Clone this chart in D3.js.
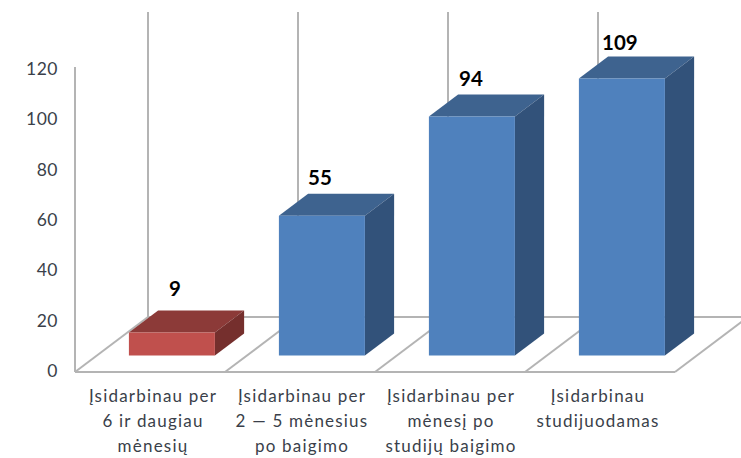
<!DOCTYPE html>
<html>
<head>
<meta charset="utf-8">
<script src="https://cdn.jsdelivr.net/npm/d3@7"></script>
<style>
    html, body { margin: 0; padding: 0; background: #fff; }
    svg { display: block; }
    text { font-family: Lato, "Open Sans", sans-serif; }
</style>
</head>
<body>
<svg id="canvas" width="741" height="458"></svg>
<script>
var categories = ['cat6', 'cat2to5', 'cat1', 'catStudy'];
var values = [9, 55, 94, 109];
var categoryLines = [
    ['Įsidarbinau per', '6 ir daugiau', 'mėnesių'],
    ['Įsidarbinau per', '2 — 5 mėnesius', 'po baigimo'],
    ['Įsidarbinau per', 'mėnesį po', 'studijų baigimo'],
    ['Įsidarbinau', 'studijuodamas']
];
var yTicks = [0, 20, 40, 60, 80, 100, 120];
var frontColors = ['#c0504d', '#4f81bd', '#4f81bd', '#4f81bd'];
var topColors = ['#8c3a38', '#3e638f', '#3e638f', '#3e638f'];
var sideColors = ['#752f2d', '#32527a', '#32527a', '#32527a'];

// hand placed offsets for the labels, the original chart does not centre them exactly
var valueNudgeX = [3, -2, -1, -2];
var valueNudgeY = [-6, 0, 0, 3];
var categoryNudgeX = [3, 2, 1, -2];

var canvas = d3.select('#canvas');

var x = d3.scaleBand()
    .domain(categories)
    .range([75, 675])
    .paddingInner(0.4267)
    .paddingOuter(0.2133);

var y = d3.scaleLinear().domain([0, 120]).range([372, 67]);
// tick labels sit a little tighter than the wall
var yLabels = d3.scaleLinear().domain([0, 120]).range([371, 69]);

// oblique projection, t = 0 is the front of the floor and t = 1 the back wall
var depthX = d3.scaleLinear().domain([0, 1]).range([0, 73]);
var depthY = d3.scaleLinear().domain([0, 1]).range([0, -55]);
var barFront = 0.3, barBack = 0.7;

function px(xv, t) { return xv + depthX(t); }
function py(v, t) { return y(v) + depthY(t); }
function poly(points) {
    return points.map(function(p) { return p[0].toFixed(1) + ',' + p[1].toFixed(1); }).join(' ');
}

var gridColor = '#b4b4b4';
var bandStep = x.step();
var slots = categories.map(function(c) { return x(c) - (bandStep - x.bandwidth()) / 2; });
var xEnd = x.range()[1];

var grid = canvas.append('g')
    .attr('fill', 'none')
    .attr('stroke', gridColor)
    .attr('stroke-width', 2);

// back wall verticals
grid.selectAll('.wall')
    .data(slots)
    .enter()
    .append('line')
    .attr('x1', function(d) { return px(d, 1); })
    .attr('x2', function(d) { return px(d, 1); })
    .attr('y1', py(0, 1))
    .attr('y2', py(120, 1));

// floor diagonals
grid.selectAll('.diag')
    .data(slots.concat([xEnd]))
    .enter()
    .append('line')
    .attr('x1', function(d) { return px(d, 0); })
    .attr('x2', function(d) { return px(d, 1); })
    .attr('y1', py(0, 0))
    .attr('y2', py(0, 1));

// floor front and back edges, plus the left axis line
grid.append('line')
    .attr('x1', x.range()[0]).attr('x2', xEnd)
    .attr('y1', y(0)).attr('y2', y(0));
grid.append('line')
    .attr('x1', px(x.range()[0], 1)).attr('x2', px(xEnd, 1))
    .attr('y1', py(0, 1)).attr('y2', py(0, 1));
grid.append('line')
    .attr('x1', x.range()[0]).attr('x2', x.range()[0])
    .attr('y1', y(0)).attr('y2', y(120));

// bars
var bars = canvas.selectAll('.bar')
    .data(values)
    .enter()
    .append('g')
    .attr('class', 'bar');

bars.append('polygon')
    .attr('fill', function(d, i) { return topColors[i]; })
    .attr('points', function(d, i) {
        var l = x(categories[i]), r = l + x.bandwidth();
        return poly([[px(l, barFront), py(d, barFront)], [px(r, barFront), py(d, barFront)],
            [px(r, barBack), py(d, barBack)], [px(l, barBack), py(d, barBack)]]);
    });

bars.append('polygon')
    .attr('fill', function(d, i) { return sideColors[i]; })
    .attr('points', function(d, i) {
        var r = x(categories[i]) + x.bandwidth();
        return poly([[px(r, barFront), py(d, barFront)], [px(r, barBack), py(d, barBack)],
            [px(r, barBack), py(0, barBack)], [px(r, barFront), py(0, barFront)]]);
    });

bars.append('polygon')
    .attr('fill', function(d, i) { return frontColors[i]; })
    .attr('points', function(d, i) {
        var l = x(categories[i]), r = l + x.bandwidth();
        return poly([[px(l, barFront), py(d, barFront)], [px(r, barFront), py(d, barFront)],
            [px(r, barFront), py(0, barFront)], [px(l, barFront), py(0, barFront)]]);
    });

// value labels
bars.append('text')
    .attr('x', function(d, i) { return px(x(categories[i]), barFront) + x.bandwidth() / 2 + valueNudgeX[i]; })
    .attr('y', function(d, i) { return py(d, barFront) - 31 + valueNudgeY[i]; })
    .attr('text-anchor', 'middle')
    .attr('font-size', 20.5)
    .attr('font-weight', 700)
    .attr('fill', '#000')
    .text(function(d) { return d; });

// y axis
var yAxis = d3.axisLeft(yLabels).tickValues(yTicks).tickSize(0).tickPadding(0);
var yG = canvas.append('g')
    .attr('transform', 'translate(58,0)')
    .call(yAxis);
yG.select('.domain').remove();
yG.selectAll('text')
    .attr('font-family', 'Lato')
    .attr('font-size', 17.5)
    .attr('letter-spacing', 0.5)
    .attr('fill', '#3a3f4a');

// category labels
var labels = canvas.selectAll('.cat')
    .data(categoryLines)
    .enter()
    .append('text')
    .attr('class', 'cat')
    .attr('text-anchor', 'middle')
    .attr('font-size', 17)
    .attr('letter-spacing', 1.2)
    .attr('fill', '#3a3f4a');

labels.selectAll('tspan')
    .data(function(d, i) {
        return d.map(function(line) { return { line: line, i: i }; });
    })
    .enter()
    .append('tspan')
    .attr('x', function(d) { return x(categories[d.i]) + x.bandwidth() / 2 + categoryNudgeX[d.i]; })
    .attr('y', function(d, i) { return 402 + i * 25; })
    .text(function(d) { return d.line; });
</script>
</body>
</html>
